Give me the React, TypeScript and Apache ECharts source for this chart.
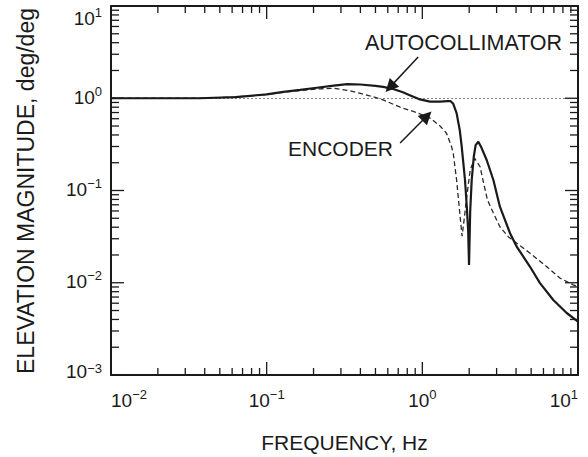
import React, { useEffect, useRef } from "react";
import * as echarts from "echarts";

// ---- data ----
const autoFreq = [0.01, 0.02, 0.037, 0.063, 0.1, 0.128, 0.164, 0.21, 0.27, 0.33, 0.4, 0.5, 0.56, 0.65, 0.75, 0.83, 0.95, 1.12, 1.3, 1.45, 1.52, 1.58, 1.66, 1.74, 1.79, 1.835, 1.88, 1.93, 1.97, 1.995, 2.03, 2.076, 2.14, 2.2, 2.29, 2.4, 2.59, 2.86, 3.15, 3.66, 4.04, 4.92, 5.7, 6.94, 8.46, 10];
const autoMag = [1.0, 1.0, 1.0, 1.03, 1.1, 1.17, 1.23, 1.3, 1.37, 1.42, 1.41, 1.36, 1.33, 1.26, 1.16, 1.08, 0.98, 0.92, 0.92, 0.93, 0.93, 0.87, 0.69, 0.45, 0.3, 0.197, 0.13, 0.067, 0.037, 0.0156, 0.06, 0.13, 0.232, 0.31, 0.338, 0.29, 0.214, 0.13, 0.0667, 0.0344, 0.0246, 0.0149, 0.0099, 0.0065, 0.0047, 0.0038];

const encFreq = [0.01, 0.02, 0.037, 0.063, 0.1, 0.128, 0.164, 0.21, 0.27, 0.33, 0.4, 0.48, 0.56, 0.72, 0.92, 1.12, 1.3, 1.43, 1.54, 1.58, 1.66, 1.74, 1.8, 1.86, 1.93, 2.03, 2.17, 2.35, 2.45, 2.62, 2.86, 3.15, 3.56, 4.04, 4.92, 6.3, 7.68, 9.3, 10];
const encMag = [1.0, 1.0, 1.0, 1.03, 1.1, 1.16, 1.21, 1.26, 1.28, 1.22, 1.13, 1.04, 0.96, 0.8, 0.7, 0.61, 0.5, 0.417, 0.3, 0.253, 0.13, 0.057, 0.032, 0.05, 0.086, 0.167, 0.223, 0.181, 0.13, 0.079, 0.057, 0.0405, 0.0316, 0.0268, 0.0209, 0.0149, 0.0112, 0.0095, 0.0091];

const xMin = 0.01;
const xMax = 10;
const yMin = 0.001;
const yMax = 10;
const xMajorDecades = [-2, -1, 0, 1];
const yMajorDecades = [-3, -2, -1, 0, 1];
const minorMantissas = [2, 3, 4, 5, 6, 7, 8, 9];
const xMinorDecades = [-2, -1, 0];
const yMinorDecades = [-3, -2, -1, 0];
const unityValue = 1;

const autoArrow = [[0.94, 2.8], [0.62, 1.32]];
const encArrow = [[0.72, 0.327], [1.07, 0.642]];

const autoLabel = "AUTOCOLLIMATOR";
const encLabel = "ENCODER";
const xTitle = "FREQUENCY, Hz";
const yTitle = "ELEVATION MAGNITUDE, deg/deg";

const FONT = "'Liberation Sans', Arial, Helvetica, sans-serif";
const INK = "#1a1a1a";

function expText(v: number) {
  const e = Math.round(Math.log10(v));
  return e < 0 ? "\u2212" + Math.abs(e) : String(e);
}
function xLabel(v: number) {
  return `{b|10}{s|${expText(v)}}`;
}
function yLabel(v: number) {
  // the lowest label sits a little above its tick, as in the reference
  if (Math.abs(v - yMin) < yMin * 0.01) return `{bm|10}{sm|${expText(v)}}`;
  return `{b|10}{s|${expText(v)}}`;
}

const richLabel = {
  b: { fontSize: 19, fontFamily: FONT, color: INK, lineHeight: 22, verticalAlign: "bottom" },
  s: { fontSize: 13, fontFamily: FONT, color: INK, lineHeight: 13, verticalAlign: "top" },
  bm: { fontSize: 19, fontFamily: FONT, color: INK, lineHeight: 22, verticalAlign: "top", padding: [0, 0, 10, 0] },
  sm: { fontSize: 13, fontFamily: FONT, color: INK, lineHeight: 13, verticalAlign: "top" },
};

function decadeValues(decades: number[]) {
  return decades.map((d) => Math.pow(10, d));
}
function minorValues(decades: number[]) {
  const out: number[] = [];
  decades.forEach((d) => minorMantissas.forEach((m) => out.push(m * Math.pow(10, d))));
  return out;
}

export default function App() {
  const ref = useRef<HTMLDivElement>(null);
  useEffect(() => {
    if (!ref.current) return;
    const chart = echarts.init(ref.current, undefined, { renderer: "svg" });

    const axisCommon = {
      type: "log",
      logBase: 10,
      splitLine: { show: false },
      axisLine: { show: true, lineStyle: { color: INK, width: 2 } },
      axisTick: { show: false },
      minorTick: { show: false },
    };

    const option: any = {
      animation: false,
      backgroundColor: "#ffffff",
      grid: { left: 111, right: 10, top: 6, bottom: 82, containLabel: false },
      xAxis: [
        {
          ...axisCommon,
          min: xMin,
          max: xMax,
          position: "bottom",
          axisLabel: {
            formatter: xLabel,
            rich: richLabel,
            margin: 13,
            alignMinLabel: "left",
            alignMaxLabel: "right",
          },
        },
        { ...axisCommon, min: xMin, max: xMax, position: "top", axisLabel: { show: false } },
      ],
      yAxis: [
        {
          ...axisCommon,
          min: yMin,
          max: yMax,
          position: "left",
          axisLabel: {
            formatter: yLabel,
            rich: richLabel,
            margin: 9,
            padding: [0, 0, 5, 0],
            verticalAlignMaxLabel: "top",
          },
        },
        { ...axisCommon, min: yMin, max: yMax, position: "right", axisLabel: { show: false } },
      ],
      series: [
        {
          name: "ENCODER",
          type: "line",
          data: encFreq.map((f, i) => [f, encMag[i]]),
          showSymbol: false,
          symbol: "none",
          lineStyle: { color: "#2a2a2a", width: 1.3, type: [5, 3] },
          z: 3,
          markLine: {
            silent: true,
            symbol: ["none", "none"],
            label: { show: false },
            lineStyle: { color: "#888", width: 1, type: [2, 2] },
            data: [{ yAxis: unityValue }],
            z: 1,
          },
        },
        {
          name: "AUTOCOLLIMATOR",
          type: "line",
          data: autoFreq.map((f, i) => [f, autoMag[i]]),
          showSymbol: false,
          symbol: "none",
          lineStyle: { color: INK, width: 2.2 },
          z: 4,
          markLine: {
            silent: true,
            symbol: ["none", "triangle"],
            symbolSize: 13,
            label: { show: false },
            itemStyle: { color: INK },
            lineStyle: { color: INK, width: 1.5, type: "solid" },
            data: [
              [{ coord: autoArrow[0] }, { coord: autoArrow[1] }],
              [{ coord: encArrow[0] }, { coord: encArrow[1] }],
            ],
          },
        },
      ],
    };

    chart.setOption(option);

    // tick marks placed through the chart's own log scales
    const finder = { xAxisIndex: 0, yAxisIndex: 0 };
    const px = (x: number, y: number) => chart.convertToPixel(finder as any, [x, y]) as number[];
    const tickStyle = { stroke: INK, lineWidth: 1.3 };
    const ticks: any[] = [];
    const addX = (v: number, len: number) => {
      const b = px(v, yMin);
      const t = px(v, yMax);
      ticks.push({ type: "line", silent: true, shape: { x1: b[0], y1: b[1], x2: b[0], y2: b[1] - len }, style: tickStyle, z: 10 });
      ticks.push({ type: "line", silent: true, shape: { x1: t[0], y1: t[1], x2: t[0], y2: t[1] + len }, style: tickStyle, z: 10 });
    };
    const addY = (v: number, len: number) => {
      const l = px(xMin, v);
      const r = px(xMax, v);
      ticks.push({ type: "line", silent: true, shape: { x1: l[0], y1: l[1], x2: l[0] + len, y2: l[1] }, style: tickStyle, z: 10 });
      ticks.push({ type: "line", silent: true, shape: { x1: r[0], y1: r[1], x2: r[0] - len, y2: r[1] }, style: tickStyle, z: 10 });
    };
    decadeValues(xMajorDecades).forEach((v) => addX(v, 13));
    minorValues(xMinorDecades).forEach((v) => addX(v, 7));
    decadeValues(yMajorDecades).forEach((v) => addY(v, 13));
    minorValues(yMinorDecades).forEach((v) => addY(v, 8));

    const texts: any[] = [
      { type: "text", x: 365, y: 43, style: { text: autoLabel, fontSize: 21.5, fontFamily: FONT, fill: INK, verticalAlign: "middle", align: "left" } },
      { type: "text", x: 288, y: 148, style: { text: encLabel, fontSize: 21, fontFamily: FONT, fill: INK, verticalAlign: "middle", align: "left" } },
      { type: "text", x: 344.5, y: 442, style: { text: xTitle, fontSize: 21, fontFamily: FONT, fill: INK, verticalAlign: "middle", align: "center" } },
      { type: "text", x: 26, y: 191, rotation: Math.PI / 2, style: { text: yTitle, fontSize: 23, fontFamily: FONT, fill: INK, verticalAlign: "middle", align: "center" } },
    ];

    chart.setOption({ graphic: [...texts, ...ticks] });

    return () => {
      chart.dispose();
    };
  }, []);

  return (
    <div
      ref={ref}
      style={{ position: "fixed", left: 0, top: 0, width: 588, height: 457, background: "#fff" }}
    />
  );
}
